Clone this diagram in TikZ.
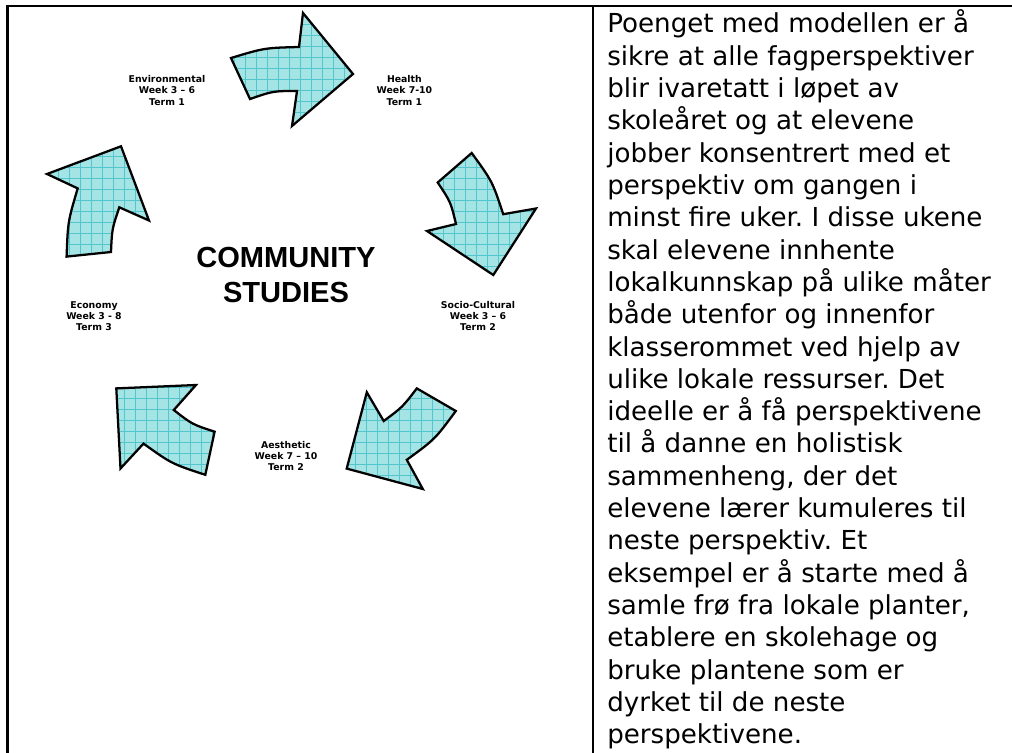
\documentclass[tikz,border=0pt]{standalone}
\usepackage{fontspec}
\setmainfont{DejaVu Sans}
\newfontfamily\titlefont{Liberation Sans}
\frenchspacing

\definecolor{arrowfill}{RGB}{164,228,228}
\definecolor{arrowgrid}{RGB}{82,198,204}

\begin{document}
\begin{tikzpicture}[x=0.75pt,y=-0.75pt,
  frameline/.style={line width=1.6pt, line cap=rect},
  cyclearrow/.style={draw=black, line width=1.7pt, line join=miter, fill=arrowfill,
    path picture={
      \foreach \g in {3,14,...,1012} {\draw[arrowgrid, line width=0.5pt] (\g,0) -- (\g,752);}
      \foreach \g in {2,13,...,752} {\draw[arrowgrid, line width=0.5pt] (0,\g) -- (1012,\g);}
    }},
  termlabel/.style={font=\bfseries\fontsize{7}{8.5}\selectfont, align=center, inner sep=0pt},
  titletext/.style={font=\titlefont\bfseries\fontsize{21.8}{26.25}\selectfont, align=center, inner sep=0pt},
  bodytext/.style={font=\fontsize{19.6}{24}\selectfont, inner sep=0pt, anchor=base west}]

\useasboundingbox (0,0) rectangle (1012,752);

% table rules
\coordinate (tl) at (7.5,6);
\coordinate (tr) at (1012,6);
\coordinate (bl) at (7.5,752);
\coordinate (mt) at (593,6);
\coordinate (mb) at (593,752);
\draw[frameline] (bl) -- (tl) -- (tr);
\draw[frameline] (mt) -- (mb);

% five curved arrows around the centre
% Environmental -> Health
\draw[cyclearrow] (231,58) -- (250,99) .. controls (273.2,91) .. (297,91)
  -- (292,126) -- (353,74) -- (303,13) -- (299,47)
  .. controls (264.5,47.9) .. cycle;
% Health -> Socio-Cultural
\draw[cyclearrow] (471.7,153) -- (437.7,182.5) .. controls (450.6,201.8) .. (456,224)
  -- (427,231) -- (493.3,275) -- (536,208.5) -- (503.2,214.2)
  .. controls (492.4,181.5) .. cycle;
% Socio-Cultural -> Aesthetic
\draw[cyclearrow] (416.8,388.4) -- (455.8,411) .. controls (434.8,439.4) .. (406.8,459.8)
  -- (422.8,489) -- (346.7,468.6) -- (366.8,392.3) -- (383.7,421)
  .. controls (402.4,407.2) .. cycle;
% Aesthetic -> Economy
\draw[cyclearrow] (205.3,474.8) -- (214.6,431.7) .. controls (192.1,424.3) .. (173.8,410)
  -- (196,385) -- (116.3,388.4) -- (120.5,468.5) -- (143.5,443.6)
  .. controls (171.7,463.8) .. cycle;
% Economy -> Environmental
\draw[cyclearrow] (66.6,256.6) -- (111,252) .. controls (112,229) .. (119.3,207.3)
  -- (149,220.5) -- (121,146.3) -- (47,174) -- (77.7,188.4)
  .. controls (67.9,221.5) .. cycle;

% labels
\node[termlabel] (env) at (167,90.5) {Environmental\\Week 3 – 6\\Term 1};
\node[termlabel] (health) at (404.4,90.5) {Health\\Week 7-10\\Term 1};
\node[termlabel] (socio) at (478,316) {Socio-Cultural\\Week 3 – 6\\Term 2};
\node[termlabel] (aes) at (286,456) {Aesthetic\\Week 7 – 10\\Term 2};
\node[termlabel] (eco) at (94,316) {Economy\\Week 3 - 8\\Term 3};

\node[titletext] (title) at (286,275) {COMMUNITY\\STUDIES};

% explanatory text
\foreach \ln [count=\i from 0] in {
  {Poenget med modellen er å},
  {sikre at alle fagperspektiver},
  {blir ivaretatt i løpet av},
  {skoleåret og at elevene},
  {jobber konsentrert med et},
  {perspektiv om gangen i},
  {minst fire uker. I disse ukene},
  {skal elevene innhente},
  {lokalkunnskap på ulike måter},
  {både utenfor og innenfor},
  {klasserommet ved hjelp av},
  {ulike lokale ressurser. Det},
  {ideelle er å få perspektivene},
  {til å danne en holistisk},
  {sammenheng, der det},
  {elevene lærer kumuleres til},
  {neste perspektiv. Et},
  {eksempel er å starte med å},
  {samle frø fra lokale planter,},
  {etablere en skolehage og},
  {bruke plantene som er},
  {dyrket til de neste},
  {perspektivene.}}
  \node[bodytext] (line\i) at (607,{33+\i*32.3}) {\ln};

\end{tikzpicture}
\end{document}
